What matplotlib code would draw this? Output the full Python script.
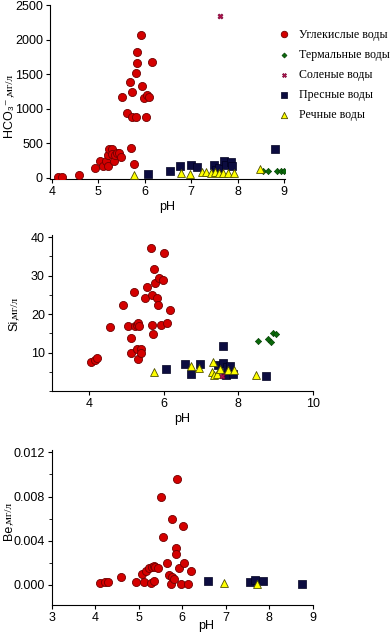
import matplotlib.pyplot as plt
from matplotlib import rcParams
from matplotlib.ticker import MultipleLocator

rcParams['font.family'] = ['Liberation Sans', 'DejaVu Sans']
rcParams['font.size'] = 9

# --- HCO3 vs pH ---
co2_ph = [4.13, 4.22, 4.58, 4.92, 5.04, 5.11, 5.16, 5.20, 5.21, 5.23, 5.29, 5.30,
          5.34, 5.36, 5.41, 5.44, 5.49, 5.51, 5.62, 5.68, 5.71, 5.72, 5.72, 5.76,
          5.81, 5.81, 5.84, 5.84, 5.91, 5.95, 5.99, 6.02, 6.04, 6.09, 6.15]
co2_hco3 = [5, 5, 35, 140, 240, 175, 240, 325, 175, 415, 415, 345,
            240, 330, 355, 365, 300, 1175, 935, 1390, 430, 1235, 875, 200,
            1520, 875, 1655, 1825, 2065, 1335, 1155, 875, 1200, 1175, 1670]
therm_ph = [8.55, 8.65, 8.85, 8.93, 9.0]
therm_hco3 = [100, 100, 100, 100, 100]
salt_ph = [7.62]
salt_hco3 = [2340]
fresh_ph = [6.08, 6.55, 6.75, 7.0, 7.12, 7.49, 7.54, 7.6, 7.7, 7.75, 7.86, 7.88, 8.8]
fresh_hco3 = [60, 100, 170, 185, 155, 180, 115, 140, 245, 180, 225, 165, 420]
river_ph = [5.77, 6.77, 6.97, 7.24, 7.31, 7.43, 7.51, 7.6, 7.69, 7.8, 7.93, 8.47]
river_hco3 = [40, 75, 60, 80, 80, 65, 80, 75, 65, 75, 65, 125]

# --- Si vs pH ---
co2_ph_si = [4.04, 4.16, 4.22, 4.56, 4.90, 5.03, 5.20, 5.11, 5.13, 5.24, 5.28, 5.31,
             5.35, 5.29, 5.30, 5.40, 5.40, 5.49, 5.54, 5.65, 5.68, 5.68, 5.71, 5.75,
             5.76, 5.81, 5.86, 5.87, 5.94, 5.99, 6.01, 6.08, 6.16]
co2_si = [7.7, 8.0, 8.7, 16.7, 22.3, 17.0, 25.8, 13.7, 9.8, 17.0, 17.2, 17.8,
          17.0, 10.9, 8.4, 10.9, 10.0, 24.2, 27.1, 37.2, 25.0, 17.2, 14.9, 31.6,
          28.1, 24.3, 22.4, 29.3, 17.2, 28.9, 35.8, 17.6, 21.0]
therm_ph_si = [8.52, 8.8, 8.89, 8.92, 9.0]
therm_si = [13.0, 13.5, 12.9, 15.0, 14.8]
salt_ph_si = [7.56]
salt_si = [3.9]
fresh_ph_si = [6.05, 6.57, 6.74, 6.97, 7.45, 7.59, 7.59, 7.67, 7.69, 7.78, 7.87, 8.74]
fresh_si = [5.8, 7.1, 4.5, 7.0, 6.7, 11.7, 7.4, 4.3, 6.3, 6.5, 4.5, 3.9]
river_ph_si = [5.74, 6.72, 6.95, 7.29, 7.32, 7.34, 7.43, 7.51, 7.72, 7.89, 8.49]
river_si = [5.0, 6.5, 6.1, 5.0, 7.6, 4.3, 4.5, 5.7, 5.5, 5.5, 4.1]

# --- Be vs pH ---
co2_ph_be = [4.10, 4.23, 4.28, 4.60, 4.94, 5.08, 5.13, 5.17, 5.23, 5.27, 5.31, 5.35,
             5.35, 5.38, 5.44, 5.50, 5.55, 5.65, 5.69, 5.73, 5.77, 5.77, 5.81, 5.85,
             5.86, 5.88, 5.92, 5.98, 6.02, 6.04, 6.14, 6.19]
co2_be = [0.00015, 0.00024, 0.00024, 0.00075, 0.00027, 0.0010, 0.00024, 0.0013,
          0.0015, 0.0002, 0.0016, 0.0017, 0.0004, 0.00165, 0.0015, 0.0080,
          0.0043, 0.0020, 0.0009, 0.0001, 0.0060, 0.00075, 0.0005, 0.0033,
          0.0028, 0.0096, 0.0015, 0.0001, 0.0053, 0.0020, 0.0001, 0.0013]
fresh_ph_be = [6.59, 7.56, 7.68, 7.85, 8.75]
fresh_be = [0.00036, 0.0003, 0.00045, 0.00036, 0.0001]
river_ph_be = [6.95, 7.72]
river_be = [0.0002, 0.0001]

labels = ['Углекислые воды', 'Термальные воды', 'Соленые воды',
          'Пресные воды', 'Речные воды']

st_co2 = dict(marker='o', s=34, c='#d40000', edgecolors='#700000', linewidths=0.6)
st_therm = dict(marker='D', s=10, c='#0a6a0a', edgecolors='#064006', linewidths=0.5)
st_salt = dict(marker='X', s=14, c='#b0104a', edgecolors='#700030', linewidths=0.4)
st_fresh = dict(marker='s', s=26, c='#0c0c40', edgecolors='#000020', linewidths=0.5)
st_river = dict(marker='^', s=32, c='#ffff00', edgecolors='#505000', linewidths=0.6)


def style(ax):
    for s in ['top', 'right']:
        ax.spines[s].set_visible(False)
    ax.tick_params(direction='out', length=3, width=0.8, pad=2)
    ax.tick_params(which='minor', length=2)


def ylab(x, y, first, rest):
    # sans part reads upward from y, serif unit part continues above it
    fig.text(x, y, first, rotation=90, ha='center', va='top', fontsize=9)
    fig.text(x, y, rest, rotation=90, ha='center', va='bottom', fontsize=8,
             family='Liberation Serif')


fig = plt.figure(figsize=[3.9, 6.34], dpi=100)

# panel 1
ax1 = fig.add_axes([0.128, 0.718, 0.603, 0.274])
ax1.scatter(co2_ph, co2_hco3, label=labels[0], zorder=3, **st_co2)
ax1.scatter(therm_ph, therm_hco3, label=labels[1], zorder=3, **st_therm)
ax1.scatter(salt_ph, salt_hco3, label=labels[2], zorder=3, **st_salt)
ax1.scatter(fresh_ph, fresh_hco3, label=labels[3], zorder=3, **st_fresh)
ax1.scatter(river_ph, river_hco3, label=labels[4], zorder=3, **st_river)
ax1.set_xlim(3.96, 9.02)
ax1.set_ylim(-15, 2500)
ax1.set_xticks([4, 5, 6, 7, 8, 9])
ax1.set_yticks([0, 500, 1000, 1500, 2000, 2500])
ax1.set_xlabel('pH', labelpad=2)
style(ax1)
ylab(0.024, 0.847, 'HCO₃⁻', ',мг/л')
leg = ax1.legend(loc='upper left', bbox_to_anchor=(0.712, 0.955), bbox_transform=fig.transFigure,
                 frameon=False, handlelength=1.0, handletextpad=0.75, labelspacing=0.68,
                 borderpad=0, borderaxespad=0, markerscale=0.8,
                 prop={'family': 'Liberation Serif', 'size': 8.6})

# panel 2
ax2 = fig.add_axes([0.133, 0.383, 0.669, 0.246])
ax2.scatter(co2_ph_si, co2_si, zorder=3, **st_co2)
ax2.scatter(therm_ph_si, therm_si, zorder=3, **st_therm)
ax2.scatter(fresh_ph_si, fresh_si, zorder=3, **st_fresh)
ax2.scatter(river_ph_si, river_si, zorder=3, **st_river)
ax2.scatter(salt_ph_si, salt_si, zorder=3, **st_salt)
ax2.set_xlim(3, 10)
ax2.set_ylim(0, 40.5)
ax2.set_yticks([10, 20, 30, 40])
ax2.yaxis.set_minor_locator(MultipleLocator(5))
ax2.set_xlabel('pH', labelpad=2)
style(ax2)
ylab(0.036, 0.495, 'Si', ',мг/л')

# panel 3
ax3 = fig.add_axes([0.133, 0.046, 0.669, 0.244])
ax3.scatter(co2_ph_be, co2_be, zorder=3, **st_co2)
ax3.scatter(fresh_ph_be, fresh_be, zorder=3, **st_fresh)
ax3.scatter(river_ph_be, river_be, zorder=3, **st_river)
ax3.set_xlim(3, 9)
ax3.set_ylim(-0.0018, 0.0122)
ax3.set_yticks([0, 0.004, 0.008, 0.012])
ax3.set_yticklabels(['0.000', '0.004', '0.008', '0.012'])
ax3.yaxis.set_minor_locator(MultipleLocator(0.002))
ax3.set_xlabel('pH', labelpad=0)
ax3.xaxis.set_label_coords(0.59, -0.1)
style(ax3)
ylab(0.022, 0.172, 'Be', ',мг/л')

plt.savefig('out.png', dpi=100)
